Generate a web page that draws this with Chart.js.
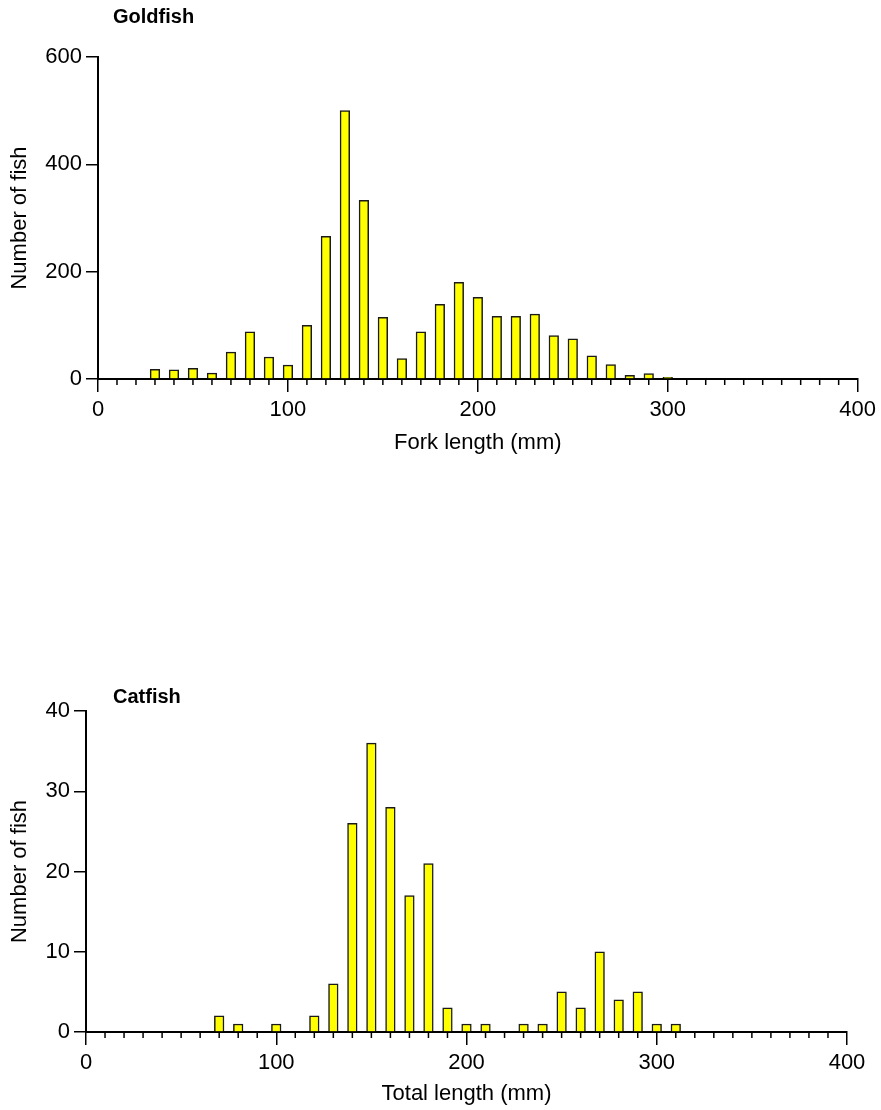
<!DOCTYPE html>
<html lang="en">
<head>
  <meta charset="UTF-8"/>
  <title>Goldfish and catfish length frequency</title>
  <script src="https://cdn.jsdelivr.net/npm/chart.js"></script>
  <style>
    body { margin: 0; background: #fff; }
    .panel { position: absolute; left: 0; }
  </style>
</head>
<body>
  <div class="panel" style="top:0px"><canvas id="goldfish" width="881" height="470"></canvas></div>
  <div class="panel" style="top:650px"><canvas id="catfish" width="881" height="460"></canvas></div>

  <script>
    // length classes (mm) and number of fish in each
    const goldfishLength = [30, 40, 50, 60, 70, 80, 90, 100, 110, 120, 130, 140, 150, 160, 170,
                            180, 190, 200, 210, 220, 230, 240, 250, 260, 270, 280, 290, 300];
    const goldfishCount  = [18, 17, 20, 11, 50, 88, 41, 26, 100, 266, 500, 333, 115, 38, 88,
                            139, 180, 152, 117, 117, 121, 81, 75, 43, 27, 7, 10, 3];

    const catfishLength = [70, 80, 90, 100, 110, 120, 130, 140, 150, 160, 170, 180, 190,
                           200, 210, 220, 230, 240, 250, 260, 270, 280, 290, 300, 310];
    const catfishCount  = [2, 1, 0, 1, 0, 2, 6, 26, 36, 28, 17, 21, 3,
                           1, 1, 0, 1, 1, 5, 3, 10, 4, 5, 1, 1];

    const xTicks = [0, 100, 200, 300, 400];

    Chart.defaults.font.family = '"Liberation Sans", Arial, sans-serif';
    Chart.defaults.color = '#000';

    // small ticks every 10 mm + the panel label
    const extras = {
      id: 'extras',
      afterDraw(chart, args, opts) {
        const ctx = chart.ctx, xs = chart.scales.x, a = chart.chartArea;
        ctx.save();
        ctx.strokeStyle = '#000';
        ctx.lineWidth = 1.5;
        for (let v = 10; v < 400; v += 10) {
          if (v % 100 === 0) continue;
          const px = xs.getPixelForValue(v);
          ctx.beginPath();
          ctx.moveTo(px, a.bottom);
          ctx.lineTo(px, a.bottom + 6);
          ctx.stroke();
        }
        ctx.fillStyle = '#000';
        ctx.font = 'bold 20px "Liberation Sans", Arial, sans-serif';
        ctx.textBaseline = 'middle';
        ctx.fillText(opts.text, a.left + opts.dx, a.top + opts.dy);
        ctx.restore();
      }
    };

    function makeChart(id, lengths, counts, o) {
      new Chart(document.getElementById(id), {
        type: 'bar',
        data: {
          datasets: [{
            data: lengths.map((l, i) => ({ x: l, y: counts[i] })),
            backgroundColor: '#ffff00',
            borderColor: '#1a1a1a',
            borderWidth: 1.5,
            barThickness: 9.6
          }]
        },
        options: {
          responsive: false,
          animation: false,
          devicePixelRatio: 1,
          layout: { padding: { left: 0, right: o.right, top: o.top, bottom: 0 } },
          plugins: {
            legend: { display: false },
            tooltip: { enabled: false },
            extras: { text: o.label, dx: o.labelDx, dy: o.labelDy }
          },
          scales: {
            x: {
              type: 'linear',
              min: 0, max: 400,
              offset: false,
              afterBuildTicks: s => { s.ticks = xTicks.map(v => ({ value: v })); },
              afterFit: s => { s.height = o.xHeight; },
              grid: { offset: false, drawOnChartArea: false, tickLength: 13, color: '#000', lineWidth: 1.5 },
              border: { color: '#000', width: 2 },
              ticks: { font: { size: 22 }, padding: 5, maxRotation: 0 },
              title: { display: true, text: o.xTitle, font: { size: 22 }, padding: { bottom: o.xTitlePad } }
            },
            y: {
              min: 0, max: o.yMax,
              ticks: { stepSize: o.yStep, font: { size: 22 }, padding: 4 },
              afterFit: s => { s.width = o.yWidth; },
              grid: { drawOnChartArea: false, tickLength: 12, color: '#000', lineWidth: 1.5 },
              border: { color: '#000', width: 2 },
              title: { display: true, text: 'Number of fish', font: { size: 22 }, padding: { top: 7 } }
            }
          }
        },
        plugins: [extras]
      });
    }

    makeChart('goldfish', goldfishLength, goldfishCount, {
      label: 'Goldfish', labelDx: 15, labelDy: -40,
      xTitle: 'Fork length (mm)', xTitlePad: 14, xHeight: 91,
      yMax: 600, yStep: 200, yWidth: 98, right: 20, top: 57
    });

    makeChart('catfish', catfishLength, catfishCount, {
      label: 'Catfish', labelDx: 27, labelDy: -14,
      xTitle: 'Total length (mm)', xTitlePad: 3, xHeight: 78,
      yMax: 40, yStep: 10, yWidth: 86, right: 34, top: 61
    });
  </script>
</body>
</html>
